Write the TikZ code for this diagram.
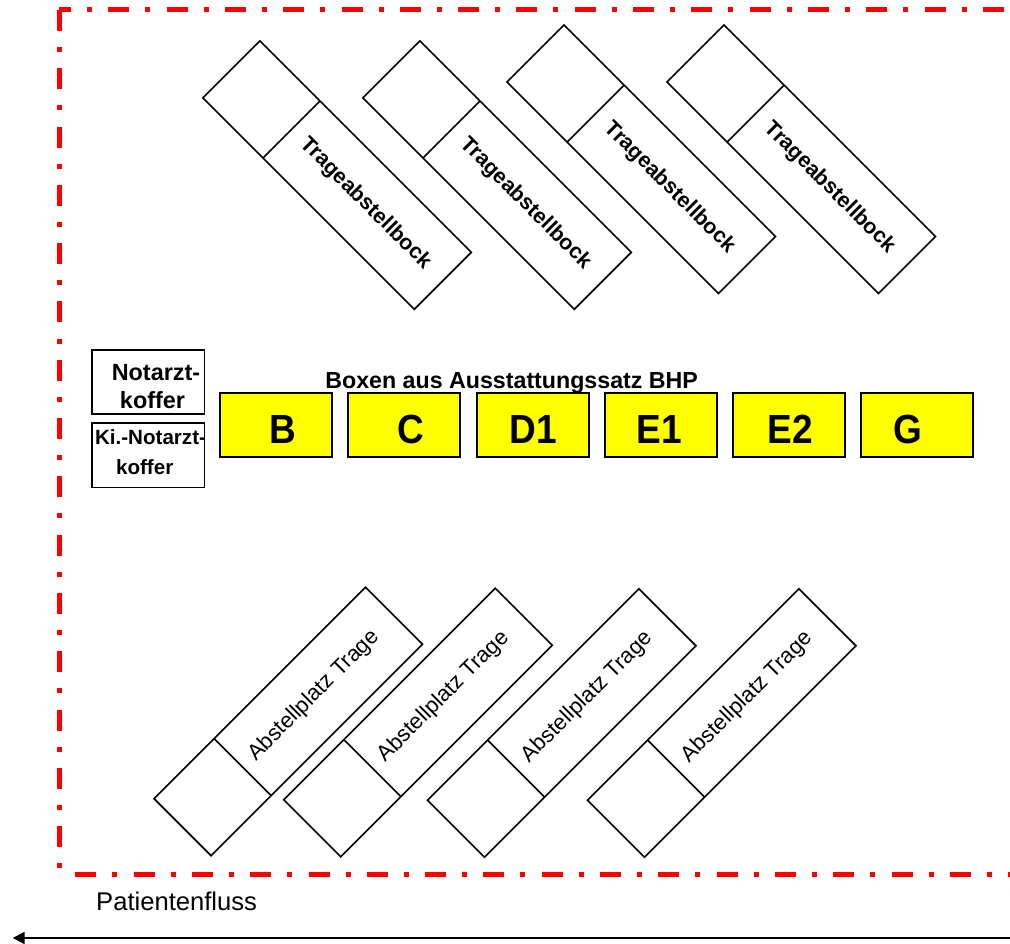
\documentclass[tikz,border=0pt]{standalone}
\usepackage{fontspec}
\setmainfont{Liberation Sans}
\usetikzlibrary{calc,arrows.meta}
\definecolor{framered}{RGB}{255,0,0}
\definecolor{boxyellow}{RGB}{255,255,0}
\tikzset{
  frameline/.style={draw=framered, line width=5pt, dash pattern=on 21pt off 16pt on 5pt off 16.3pt},
  stand/.style={draw, line width=1.6pt, minimum width=299pt, minimum height=80.6pt, inner sep=0pt, outer sep=0pt},
  divider/.style={line width=1.6pt},
  standtxt/.style={font=\bfseries\fontsize{21.5}{24}\selectfont, inner sep=0pt},
  placetxt/.style={font=\fontsize{22}{24}\selectfont, inner sep=0pt},
  kitbox/.style={draw, fill=boxyellow, line width=2pt, minimum width=112pt, minimum height=64pt, inner sep=0pt},
  kitletter/.style={font=\bfseries\fontsize{37}{40}\selectfont, inner sep=0pt, anchor=base},
  casebox/.style={draw, line width=1.6pt, minimum width=112.6pt, inner sep=0pt},
  casetxt/.style={font=\bfseries\fontsize{#1}{#1}\selectfont, inner sep=0pt, anchor=base},
  flowline/.style={line width=2pt, -{Triangle[length=12pt,width=12pt]}},
}
\begin{document}
\begin{tikzpicture}[x=1pt,y=-1pt]
\useasboundingbox (0,0) rectangle (1010,944);
% frame
\coordinate (ftl) at (59,10);
\coordinate (ftr) at (1012,10);
\coordinate (fbl) at (59,874);
\coordinate (fbr) at (1012,874);
\draw[frameline, dash phase=9pt] (ftl) -- (ftr);
\draw[frameline] (ftl) -- (fbl);
\draw[frameline, dash phase=42pt] (fbl) -- (fbr);
% top stands
\foreach \n/\cx/\cy in {1/337.1/175.1, 2/497.1/175.1, 3/641.3/159.2, 4/801.3/159.2}{
  \node[stand, rotate=-45] (t\n) at (\cx,\cy) {};
  \draw[divider] ($(t\n.north west)!85pt!(t\n.north east)$) -- ($(t\n.south west)!85pt!(t\n.south east)$);
  \node[standtxt, rotate=-45] (t\n l) at ($(t\n.west)!190pt!(t\n.east)$) {Trageabstellbock};
}
% bottom places
\foreach \n/\cx/\cy in {1/288.3/721.5, 2/418/722.5, 3/561.7/723, 4/721.7/723}{
  \node[stand, rotate=45] (b\n) at (\cx,\cy) {};
  \draw[divider] ($(b\n.north west)!85pt!(b\n.north east)$) -- ($(b\n.south west)!85pt!(b\n.south east)$);
  \node[placetxt, rotate=45] (b\n l) at ($(b\n.west)!186pt!(b\n.east)$) {Abstellplatz Trage};
}
% cases
\node[casebox, minimum height=64pt] (c1) at (148,382) {};
\node[casebox, minimum height=64.6pt] (c2) at (148,455) {};
\node[casetxt=23.4] (c1a) at (156,380.7) {Notarzt-};
\node[casetxt=23.4] (c1b) at (152.5,408.3) {koffer};
\node[casetxt=20.6] (c2a) at (150.5,444) {Ki.-Notarzt-};
\node[casetxt=20.6] (c2b) at (144.7,474) {koffer};
% kit boxes
\node[casetxt=23.2] (kt) at (511.7,388.3) {Boxen aus Ausstattungssatz BHP};
\foreach \n/\cx/\lx/\t in {1/276.3/283/B, 2/404.2/411/C, 3/532.5/533/D1, 4/660.5/659/E1, 5/788.7/790/E2, 6/916.7/908/G}{
  \node[kitbox] (k\n) at (\cx,425) {};
  \node[kitletter] (k\n l) at (\lx,443.3) {\scalebox{1}[1.1]{\t}};
}
% flow
\node[font=\fontsize{25.6}{28}\selectfont, inner sep=0pt, anchor=base west] (flow) at (96,910) {Patientenfluss};
\coordinate (fs) at (1012,938);
\coordinate (fe) at (12.7,938);
\draw[flowline] (fs) -- (fe);
\end{tikzpicture}
\end{document}
